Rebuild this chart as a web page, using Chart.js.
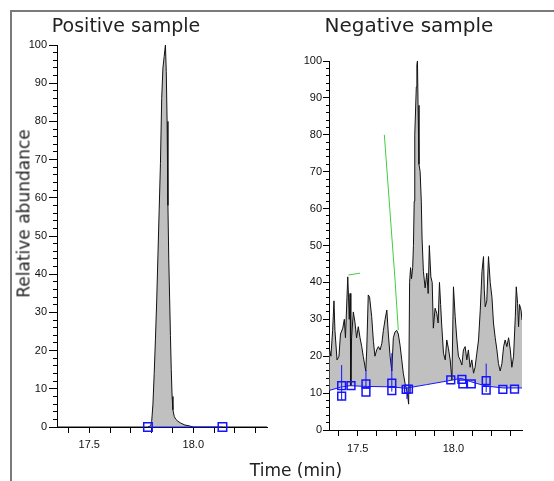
<!DOCTYPE html>
<html>
<head>
<meta charset="utf-8">
<script src="https://cdn.jsdelivr.net/npm/chart.js@4.4.0/dist/chart.umd.min.js"></script>
<style>
  html, body { margin: 0; padding: 0; background: #fff; }
  #stage { position: relative; width: 554px; height: 481px; overflow: hidden; font-family: "DejaVu Sans", sans-serif; color: #222; }
  #stage canvas { position: absolute; left: 0; top: 0; }
  .frame { position: absolute; left: 10px; top: 10px; width: 600px; height: 600px; border-top: 2px solid #7a7a7a; border-left: 2px solid #7a7a7a; }
  .lbl { position: absolute; white-space: nowrap; line-height: 1; text-align: center; }
</style>
</head>
<body>
<div id="stage">
  <div class="frame"></div>
  <canvas id="posChart" width="554" height="481"></canvas>
  <canvas id="negChart" width="554" height="481"></canvas>
  <div class="lbl" style="left:0;width:252px;top:16px;font-size:19px;line-height:19px">Positive sample</div>
  <div class="lbl" style="left:309px;width:200px;top:15px;font-size:20px;line-height:20px">Negative sample</div>
  <div class="lbl" style="left:196px;width:200px;top:462px;font-size:17px;line-height:17px">Time (min)</div>
  <div class="lbl" style="left:-86px;width:220px;top:205px;font-size:17px;line-height:17px;transform:rotate(-90deg)">Relative abundance</div>
</div>
<script>
// tick labels shown on the time axis
const xTickLabels = [17.5, 18.0];

// positive sample trace
const posTime  = [17.345, 17.780, 17.795, 17.800, 17.806, 17.812, 17.818, 17.824, 17.830, 17.836, 17.842, 17.848, 17.854, 17.860, 17.866, 17.870, 17.874, 17.878, 17.882, 17.886, 17.890, 17.894, 17.898, 17.902, 17.908, 17.916, 17.926, 17.940, 17.960, 17.980, 18.000, 18.354];
const posAbund = [0, 0, 0.3, 1.5, 6, 14, 23, 33, 45, 57, 69, 86, 94, 97, 100, 93, 80, 58, 44, 34, 24, 15, 8, 4.5, 2.8, 2, 1.5, 1, 0.5, 0.3, 0, 0];
// positive sample baseline (peak limits)
const posBaseTime  = [17.782, 18.140];
const posBaseAbund = [0, 0];

// negative sample trace
const negTime = [17.352, 17.360, 17.369, 17.376, 17.381, 17.392, 17.402, 17.410, 17.422, 17.430, 17.436, 17.448, 17.452, 17.456, 17.460, 17.464, 17.468, 17.477, 17.486, 17.494,
  17.503, 17.512, 17.521, 17.529, 17.542, 17.547, 17.555, 17.562, 17.573, 17.582, 17.590, 17.599, 17.608, 17.617, 17.626, 17.634, 17.643, 17.652, 17.660, 17.669,
  17.678, 17.686, 17.695, 17.704, 17.712, 17.721, 17.730, 17.738, 17.747, 17.759, 17.766, 17.771, 17.776, 17.781, 17.787, 17.791, 17.795, 17.798, 17.806, 17.809,
  17.812, 17.815, 17.820, 17.826, 17.832, 17.836, 17.843, 17.852, 17.861, 17.868, 17.874, 17.882, 17.889, 17.895, 17.904, 17.913, 17.920, 17.927, 17.933, 17.938,
  17.948, 17.957, 17.965, 17.974, 17.983, 17.992, 18.000, 18.009, 18.018, 18.026, 18.035, 18.044, 18.052, 18.061, 18.070, 18.078, 18.087, 18.096, 18.105, 18.113,
  18.122, 18.131, 18.140, 18.149, 18.157, 18.161, 18.166, 18.174, 18.183, 18.192, 18.201, 18.209, 18.218, 18.227, 18.235, 18.244, 18.253, 18.262, 18.270, 18.279,
  18.288, 18.297, 18.305, 18.314, 18.323, 18.328, 18.335, 18.340, 18.345, 18.353, 18.358];
const negAbund = [22, 20, 27, 35, 27, 19, 20, 26, 27.6, 30, 25, 41.5, 36, 30, 37, 12, 25, 32, 29, 25,
  28, 25, 22.6, 19.9, 16, 21.7, 36.6, 36, 30.7, 24, 20, 21.7, 22.6, 21.7, 23.5, 27, 30, 32.5, 26, 20,
  16, 25, 26.6, 27, 26, 23, 19, 15.4, 12.7, 10, 7, 40, 44, 41, 44, 50, 62, 80, 93, 99,
  100, 88, 72, 70, 62, 52, 43, 38.5, 42.5, 37, 50, 41.5, 40, 27.6, 33, 31.6, 29, 40, 34, 29,
  20.8, 19, 24.4, 22, 19, 13.5, 38.8, 30.7, 24.4, 20, 19, 17.6, 21.7, 22.6, 19, 21.7, 17, 19, 15.4, 17,
  20.8, 24.4, 32.5, 43, 47, 38, 33.4, 35, 47, 40, 36, 29, 25, 21.7, 18, 16, 18, 22.6, 24.4, 22.6,
  25, 21.7, 17, 20, 30.7, 38.8, 34.3, 28, 34, 32.5, 29.8];
// negative sample baseline
const negBaseTime  = [17.350, 17.410, 17.460, 17.550, 17.680, 17.750, 17.860, 17.970, 18.040, 18.090, 18.170, 18.260, 18.358];
const negBaseAbund = [10.7, 11.6, 12.0, 11.8, 11.7, 11.3, 12.3, 13.3, 14.0, 13.1, 11.9, 11.4, 11.4];
// negative sample peak-limit markers
const negMarkTime  = [17.416, 17.416, 17.465, 17.543, 17.543, 17.678, 17.678, 17.753, 17.765, 17.986, 18.044, 18.049, 18.093, 18.171, 18.171, 18.258, 18.319];
const negMarkAbund = [12.0, 9.2, 12.0, 12.5, 10.3, 12.7, 10.7, 11.0, 11.1, 13.6, 13.7, 12.5, 12.5, 13.4, 10.8, 11.0, 11.1];
// vertical drop lines
const negDropTime = [17.416, 17.543, 17.678, 17.757, 18.171];
const negDropLow  = [8.1, 11.3, 10.4, 8.4, 10.3];
const negDropHigh = [17.6, 16.3, 20.8, 11.6, 18.0];
// green traces
const greenShortTime  = [17.451, 17.512];
const greenShortAbund = [42.0, 42.5];
const greenLongTime   = [17.639, 17.695, 17.712];
const greenLongAbund  = [80, 40.6, 27.1];

const BLUE = '#1414ff';
const GREEN = '#44cc44';
const FILL = '#c0c0c0';
const TICK_FONT = { family: '"Liberation Sans", Arial, sans-serif', size: 11 };

function pts(xs, ys) {
    return xs.map((x, i) => ({ x: x, y: ys[i] }));
}

function dropPts() {
    const out = [];
    negDropTime.forEach((t, i) => {
        out.push({ x: t, y: negDropLow[i] }, { x: t, y: negDropHigh[i] }, { x: t, y: null });
    });
    return out;
}

function panelOptions(p) {
    return {
        responsive: false,
        animation: false,
        layout: { padding: p.padding },
        plugins: { legend: { display: false }, tooltip: { enabled: false } },
        elements: { line: { tension: 0 } },
        scales: {
            x: {
                type: 'linear', min: p.xMin, max: p.xMax,
                border: { display: true, color: '#000', width: 1 },
                grid: { drawOnChartArea: false, tickLength: p.xTickLen, color: '#000' },
                ticks: {
                    stepSize: 0.1, includeBounds: false, autoSkip: false, maxRotation: 0,
                    padding: p.xPad, color: '#111', font: TICK_FONT,
                    callback: v => xTickLabels.some(t => Math.abs(t - v) < 1e-6) ? Number(v).toFixed(1) : ''
                },
                afterFit: s => { s.height = p.xHeight; }
            },
            y: {
                type: 'linear', position: 'left', min: 0, max: 100, weight: 1,
                border: { display: true, color: '#000', width: 1 },
                grid: { drawOnChartArea: false, tickLength: p.majorLen, color: '#000' },
                ticks: { stepSize: 10, autoSkip: false, padding: p.yPad, color: '#111', font: TICK_FONT },
                afterFit: s => { s.width = p.yWidth; }
            },
            yMinor: {
                type: 'linear', axis: 'y', position: 'left', min: 0, max: 100, weight: 0,
                border: { display: false },
                grid: { drawOnChartArea: false, tickLength: p.minorLen, color: '#000' },
                ticks: { display: false, stepSize: 2, autoSkip: false },
                afterFit: s => { s.width = 0; }
            }
        }
    };
}

document.addEventListener('DOMContentLoaded', function() {
    new Chart(document.getElementById('posChart'), {
        type: 'line',
        data: {
            datasets: [{
                label: 'Baseline',
                data: pts(posBaseTime, posBaseAbund),
                borderColor: BLUE, borderWidth: 1,
                pointStyle: 'rect', pointRadius: 6, pointBorderColor: BLUE,
                pointBackgroundColor: 'rgba(0,0,0,0)', pointBorderWidth: 1.5,
                fill: false, clip: false
            }, {
                label: 'Positive sample',
                data: pts(posTime, posAbund),
                borderColor: '#111', borderWidth: 1,
                backgroundColor: FILL, fill: 'origin', pointRadius: 0
            }]
        },
        options: panelOptions({
            padding: { left: 0, top: 45, right: 287, bottom: 0 },
            xMin: 17.345, xMax: 18.354, xHeight: 54, xTickLen: 6, xPad: 5,
            yWidth: 57, majorLen: 8, minorLen: 4, yPad: 2
        })
    });

    new Chart(document.getElementById('negChart'), {
        type: 'line',
        data: {
            datasets: [{
                label: 'Markers',
                data: pts(negMarkTime, negMarkAbund),
                showLine: false,
                pointStyle: 'rect', pointRadius: 5.5, pointBorderColor: BLUE,
                pointBackgroundColor: 'rgba(0,0,0,0)', pointBorderWidth: 1.5,
                clip: false
            }, {
                label: 'Drops',
                data: dropPts(),
                borderColor: BLUE, borderWidth: 1, pointRadius: 0, spanGaps: false, fill: false
            }, {
                label: 'Baseline',
                data: pts(negBaseTime, negBaseAbund),
                borderColor: BLUE, borderWidth: 1, pointRadius: 0, fill: false
            }, {
                label: 'Green short',
                data: pts(greenShortTime, greenShortAbund),
                borderColor: GREEN, borderWidth: 1, pointRadius: 0, fill: false
            }, {
                label: 'Green long',
                data: pts(greenLongTime, greenLongAbund),
                borderColor: GREEN, borderWidth: 1, pointRadius: 0, fill: false
            }, {
                label: 'Negative sample',
                data: pts(negTime, negAbund),
                borderColor: '#111', borderWidth: 1,
                backgroundColor: FILL, fill: { target: 2 }, pointRadius: 0
            }]
        },
        options: panelOptions({
            padding: { left: 0, top: 61, right: 32, bottom: 0 },
            xMin: 17.35, xMax: 18.358, xHeight: 51, xTickLen: 6, xPad: 6,
            yWidth: 329, majorLen: 6, minorLen: 3, yPad: 1
        })
    });
});
</script>
</body>
</html>
